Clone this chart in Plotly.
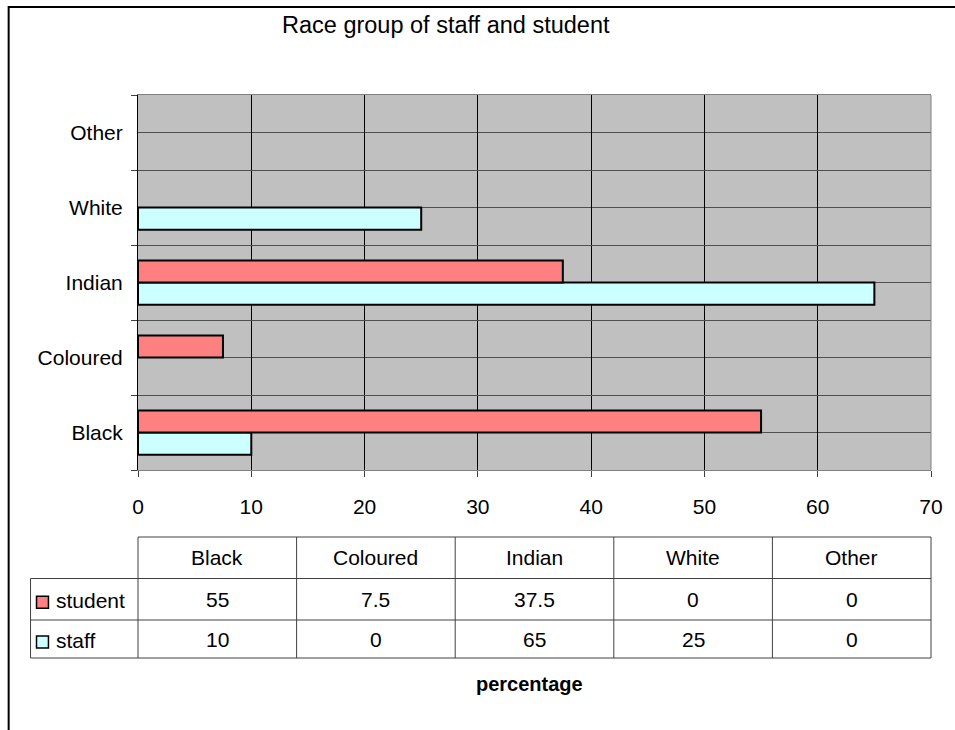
import plotly.graph_objects as go

categories = ["Black", "Coloured", "Indian", "White", "Other"]
student = [55, 7.5, 37.5, 0, 0]
staff = [10, 0, 65, 25, 0]
series_names = ["student", "staff"]
x_ticks = [0, 10, 20, 30, 40, 50, 60, 70]

W, H = 955, 730
L, R, T, B = 138, 20, 95, 260
PW, PH = W - L - R, H - T - B
FONT = "Liberation Sans, Arial, sans-serif"
STUDENT_C = "#FF8080"
STAFF_C = "#CCFFFF"
FS = 21


def px(x):
    return (x - L) / PW


def py(y):
    return (H - B - y) / PH


def nz(vals):
    # zero-length bars are not drawn (no stray outline at the axis)
    return [v if v else None for v in vals]


fig = go.Figure()
fig.add_trace(go.Bar(y=categories, x=nz(staff), orientation="h", name="staff",
                     marker=dict(color=STAFF_C, line=dict(color="black", width=2))))
fig.add_trace(go.Bar(y=categories, x=nz(student), orientation="h", name="student",
                     marker=dict(color=STUDENT_C, line=dict(color="black", width=2))))

shapes = []
annotations = []

# gridlines at category centres
for c in categories:
    shapes.append(dict(type="line", xref="paper", yref="y", x0=0, x1=1, y0=c, y1=c,
                       line=dict(color="#505050", width=1), layer="below"))
# right frame of plot area
shapes.append(dict(type="line", xref="paper", yref="paper", x0=1, x1=1, y0=0, y1=1,
                   line=dict(color="#808080", width=1)))

# outer chart border
shapes.append(dict(type="rect", xref="paper", yref="paper", x0=px(8), x1=px(990),
                   y0=py(760), y1=py(7), line=dict(color="black", width=2)))

# data table
tc = "#404040"
y_head_top, y_head_bot, y_r1_bot, y_r2_bot = 537, 578.5, 620, 658
n = len(categories)
shapes.append(dict(type="line", xref="paper", yref="paper", x0=0, x1=1,
                   y0=py(y_head_top), y1=py(y_head_top), line=dict(color=tc, width=1)))
for yy in (y_head_bot, y_r1_bot, y_r2_bot):
    shapes.append(dict(type="line", xref="paper", yref="paper", x0=px(30), x1=1,
                       y0=py(yy), y1=py(yy), line=dict(color=tc, width=1)))
shapes.append(dict(type="line", xref="paper", yref="paper", x0=px(30), x1=px(30),
                   y0=py(y_head_bot), y1=py(y_r2_bot), line=dict(color=tc, width=1)))
for k in range(n + 1):
    shapes.append(dict(type="line", xref="paper", yref="paper", x0=k / n, x1=k / n,
                       y0=py(y_head_top), y1=py(y_r2_bot), line=dict(color=tc, width=1)))

tfont = dict(family=FONT, size=FS, color="black")
for k, c in enumerate(categories):
    xc = (k + 0.5) / n
    annotations.append(dict(text=c, x=xc, y=py((y_head_top + y_head_bot) / 2), xref="paper",
                            yref="paper", showarrow=False, font=tfont, xanchor="center",
                            yanchor="middle"))
    for vals, (ya, yb) in ((student, (y_head_bot, y_r1_bot)), (staff, (y_r1_bot, y_r2_bot))):
        v = vals[k]
        annotations.append(dict(text=f"{v:g}", x=xc, y=py((ya + yb) / 2), xref="paper",
                                yref="paper", showarrow=False, font=tfont, xanchor="center",
                                yanchor="middle"))

for name, color, (ya, yb) in (("student", STUDENT_C, (y_head_bot, y_r1_bot)),
                              ("staff", STAFF_C, (y_r1_bot, y_r2_bot))):
    ym = (ya + yb) / 2
    shapes.append(dict(type="rect", xref="paper", yref="paper", x0=px(36), x1=px(48),
                       y0=py(ym + 9), y1=py(ym - 3), fillcolor=color,
                       line=dict(color="black", width=1.5)))
    annotations.append(dict(text=name, x=px(54), y=py(ym + 1), xref="paper", yref="paper",
                            showarrow=False, font=tfont, xanchor="left", yanchor="middle"))

# axis title below table
annotations.append(dict(text="<b>percentage</b>", x=px(531), y=py(684), xref="paper",
                        yref="paper", showarrow=False,
                        font=dict(family=FONT, size=20, color="black"),
                        xanchor="center", yanchor="middle"))
# chart title
annotations.append(dict(text="Race group of staff and student", x=px(448), y=py(25),
                        xref="paper", yref="paper", showarrow=False,
                        font=dict(family=FONT, size=23.5, color="black"),
                        xanchor="center", yanchor="middle"))

fig.update_layout(
    width=W, height=H, margin=dict(l=L, r=R, t=T, b=B, pad=0),
    paper_bgcolor="white", plot_bgcolor="#C0C0C0",
    barmode="group", bargap=0.41, bargroupgap=0,
    showlegend=False, shapes=shapes, annotations=annotations,
    font=dict(family=FONT, size=FS, color="black"),
    xaxis=dict(range=[0, 70], tickvals=x_ticks, ticks="outside", ticklen=6,
               tickcolor="#404040", showgrid=True, gridcolor="black", gridwidth=1,
               showline=True, linecolor="#808080", linewidth=1, mirror=True,
               zeroline=False, tickfont=dict(family=FONT, size=FS),
               ticklabelstandoff=12, fixedrange=True),
    yaxis=dict(type="category", categoryorder="array", categoryarray=categories,
               range=[-0.5, 4.5], tickson="boundaries", ticks="outside", ticklen=6,
               tickcolor="#404040", showgrid=True, gridcolor="#505050", gridwidth=1,
               showline=True, linecolor="black", linewidth=1,
               tickfont=dict(family=FONT, size=FS), ticklabelstandoff=10,
               fixedrange=True),
)

fig.write_html("out.html")
